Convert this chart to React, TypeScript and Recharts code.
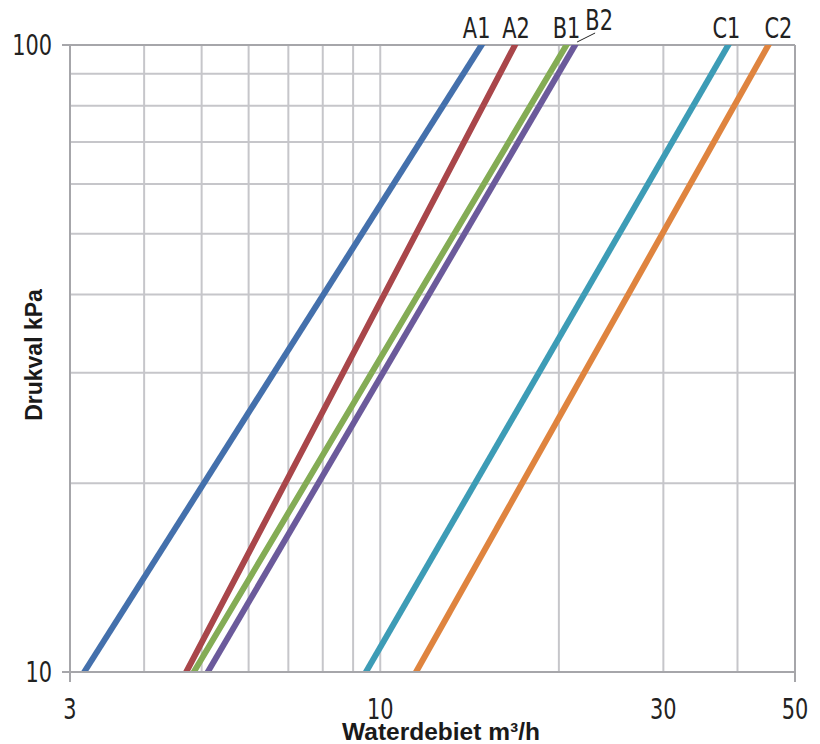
import React from "react";
import {
  CartesianGrid,
  Line,
  LineChart,
  ReferenceLine,
  XAxis,
  YAxis,
} from "recharts";

// waterdebiet (m³/h) where each curve crosses 10 kPa and 100 kPa
const seriesNames = ["A1", "A2", "B1", "B2", "C1", "C2"];
const pressureEnds = [10, 100];
const flowAt10 = [3.17, 4.71, 4.85, 5.12, 9.46, 11.49];
const flowAt100 = [14.82, 16.87, 20.6, 21.3, 38.6, 45.1];

const xGridValues = [3, 4, 5, 6, 7, 8, 9, 10, 20, 30, 40, 50];
const xTickLabels = [3, 10, 30, 50];
const xTickMarks = [3, 7.06, 50];
const yGridValues = [10, 20, 30, 40, 50, 60, 70, 80, 90, 100];
const yTickLabels = [10, 100];

const seriesColors = ["#4470AC", "#A9464A", "#84AC55", "#6B5A9B", "#3D9CB6", "#DF843F"];
// label offset from the top end of each line
const labelOffsets = [
  { dx: -5, dy: -7, leader: false },
  { dx: 1, dy: -7, leader: false },
  { dx: 0, dy: -7, leader: false },
  { dx: 24, dy: -15, leader: true },
  { dx: -2, dy: -7, leader: false },
  { dx: 10, dy: -7, leader: false },
];

const W = 820;
const H = 744;
const AXIS = "#A6A6AA";
const GRID = "#C6C6CA";
const FONT = "'Liberation Sans Narrow', 'DejaVu Sans Condensed', sans-serif";
const TITLE_FONT = "'Liberation Sans', Arial, sans-serif";
const SQUEEZE = 0.8;

// condensed label text
function Narrow({ x, y, anchor, children }: any) {
  return (
    <text
      transform={`translate(${x},${y}) scale(${SQUEEZE},1)`}
      textAnchor={anchor}
      fontFamily={FONT}
      fontSize={29}
      fill="#222"
    >
      {children}
    </text>
  );
}

function XTick(props: any) {
  const { x, y, payload } = props;
  const v = payload.value;
  return (
    <g>
      {xTickMarks.includes(v) && (
        <line x1={x} x2={x} y1={y} y2={y + 10} stroke={AXIS} strokeWidth={2} />
      )}
      {xTickLabels.includes(v) && (
        <Narrow x={x} y={y + 47} anchor="middle">
          {v}
        </Narrow>
      )}
    </g>
  );
}

function YTick(props: any) {
  const { x, y, payload } = props;
  const v = payload.value;
  if (!yTickLabels.includes(v)) return <g />;
  return (
    <g>
      <line x1={x - 8} x2={x} y1={y} y2={y} stroke={AXIS} strokeWidth={2} />
      <Narrow x={x - 18} y={y + 10} anchor="end">
        {v}
      </Narrow>
    </g>
  );
}

function makeLabel(i: number) {
  return (props: any) => {
    const { x, y, index } = props;
    if (index !== 1) return <g />;
    const o = labelOffsets[i];
    return (
      <g>
        {o.leader && (
          <line x1={x + 2} y1={y - 3} x2={x + 20} y2={y - 12} stroke="#222" strokeWidth={1} />
        )}
        <Narrow x={x + o.dx} y={y + o.dy} anchor="middle">
          {seriesNames[i]}
        </Narrow>
      </g>
    );
  };
}

export default function App() {
  const series = seriesNames.map((name, i) => ({
    name,
    data: [
      { q: flowAt10[i], p: pressureEnds[0] },
      { q: flowAt100[i], p: pressureEnds[1] },
    ],
  }));

  return (
    <div style={{ position: "absolute", left: 0, top: 0, width: W, height: H, background: "#fff", overflow: "hidden" }}>
      <LineChart width={W} height={H} margin={{ top: 45, right: 25, bottom: 0, left: 0 }}>
        <CartesianGrid stroke={GRID} strokeWidth={2} />
        <XAxis
          dataKey="q"
          type="number"
          scale="log"
          domain={[3, 50]}
          allowDataOverflow
          ticks={xGridValues}
          interval={0}
          height={72}
          tickSize={0}
          tickMargin={0}
          tickLine={false}
          axisLine={{ stroke: AXIS, strokeWidth: 2 }}
          tick={<XTick />}
        />
        <YAxis
          dataKey="p"
          type="number"
          scale="log"
          domain={[10, 100]}
          allowDataOverflow
          ticks={yGridValues}
          interval={0}
          width={70}
          tickSize={0}
          tickMargin={0}
          tickLine={false}
          axisLine={{ stroke: AXIS, strokeWidth: 2 }}
          tick={<YTick />}
        />
        <ReferenceLine y={100} stroke={AXIS} strokeWidth={2} />
        <ReferenceLine x={50} stroke={AXIS} strokeWidth={2} />
        {series.map((s, i) => (
          <Line
            key={s.name}
            data={s.data}
            dataKey="p"
            name={s.name}
            stroke={seriesColors[i]}
            strokeWidth={6}
            strokeLinecap="square"
            dot={false}
            activeDot={false}
            isAnimationActive={false}
            label={makeLabel(i)}
          />
        ))}
      </LineChart>
      <div
        style={{
          position: "absolute",
          left: 441,
          top: 721,
          transform: "translateX(-50%)",
          whiteSpace: "nowrap",
          fontFamily: TITLE_FONT,
          fontWeight: 700,
          fontSize: 24.5,
          color: "#1a1a1a",
          lineHeight: "22px",
        }}
      >
        Waterdebiet m³/h
      </div>
      <div
        style={{
          position: "absolute",
          left: 34,
          top: 355,
          transform: "translate(-50%, -50%) rotate(-90deg)",
          whiteSpace: "nowrap",
          fontFamily: TITLE_FONT,
          fontWeight: 700,
          fontSize: 23,
          color: "#1a1a1a",
          lineHeight: "26px",
        }}
      >
        Drukval kPa
      </div>
    </div>
  );
}
